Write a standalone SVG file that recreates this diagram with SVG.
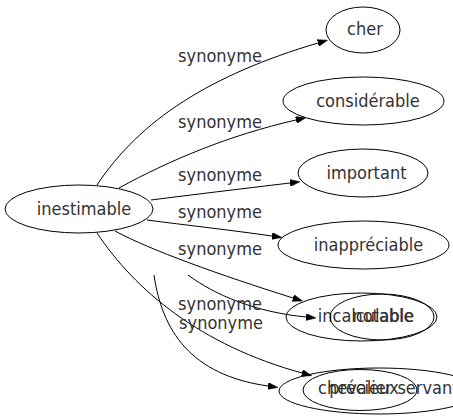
<svg xmlns="http://www.w3.org/2000/svg" width="453" height="419" viewBox="0 0 453 419">
<style>
  .node ellipse { fill: none; stroke: #000; stroke-width: 1; }
  text { font-family: "DejaVu Sans Condensed", "DejaVu Sans", sans-serif; font-size: 18px; fill: #333; }
  .nt { text-anchor: middle; }
  .lbl { text-anchor: middle; }
  .edge { fill: none; stroke: #000; stroke-width: 1; marker-end: url(#arrow); }
</style>
<defs>
  <marker id="arrow" markerUnits="userSpaceOnUse" viewBox="0 -3.5 10 7" refX="0" refY="0" markerWidth="10" markerHeight="7" orient="auto">
    <path d="M0,-3.5 L10,0 L0,3.5 z" fill="#000" stroke="#000" stroke-width="0.5"/>
  </marker>
</defs>
<rect width="453" height="419" fill="#fff"/>
<g id="connectors">
  <path class="edge" d="M97,185 C 140,120 210,75 318,43"/>
  <path class="edge" d="M119,188 C 170,160 230,135 296,120"/>
  <path class="edge" d="M151,200 C 190,195 240,189 290,183"/>
  <path class="edge" d="M147,220 C 185,225 230,230 272,236"/>
  <path class="edge" d="M115,231 C 150,250 220,275 293,298"/>
  <path class="edge" d="M188,275 C 215,295 255,312 306,317"/>
  <path class="edge" d="M97,233 C 135,290 200,345 302,373"/>
  <path class="edge" d="M154,275 C 162,330 190,375 268,386"/>
  <text class="lbl" x="220" y="62">synonyme</text>
  <text class="lbl" x="220" y="128">synonyme</text>
  <text class="lbl" x="220" y="181">synonyme</text>
  <text class="lbl" x="220" y="218">synonyme</text>
  <text class="lbl" x="220" y="255">synonyme</text>
  <text class="lbl" x="220" y="310">synonyme</text>
  <text class="lbl" x="221" y="329">synonyme</text>
</g>
<g id="inestimable" class="node">
  <ellipse cx="79" cy="209" rx="74" ry="24"/>
  <text class="nt" x="84" y="215">inestimable</text>
</g>
<g id="cher" class="node">
  <ellipse cx="363" cy="30" rx="37" ry="23"/>
  <text class="nt" x="365" y="35">cher</text>
</g>
<g id="considerable" class="node">
  <ellipse cx="363.5" cy="101" rx="80.5" ry="24"/>
  <text class="nt" x="368" y="107">considérable</text>
</g>
<g id="important" class="node">
  <ellipse cx="363" cy="173" rx="65" ry="24"/>
  <text class="nt" x="366.5" y="179">important</text>
</g>
<g id="inappreciable" class="node">
  <ellipse cx="363.5" cy="245" rx="85.5" ry="24"/>
  <text class="nt" x="368.5" y="251">inappréciable</text>
</g>
<g id="incalculable" class="node">
  <ellipse cx="361.5" cy="317" rx="75.5" ry="24"/>
  <text class="nt" x="366" y="322">incalculable</text>
</g>
<g id="notable" class="node">
  <ellipse cx="382" cy="317" rx="52" ry="23"/>
  <text class="nt" x="383" y="322">notable</text>
</g>
<g id="chevalier-servant" class="node">
  <ellipse cx="379" cy="391" rx="100" ry="23"/>
  <text x="318" y="394">chevalier servant</text>
</g>
<g id="precieux" class="node">
  <ellipse cx="360" cy="390" rx="57" ry="20.5"/>
  <text class="nt" x="364" y="394">précieux</text>
</g>
</svg>
